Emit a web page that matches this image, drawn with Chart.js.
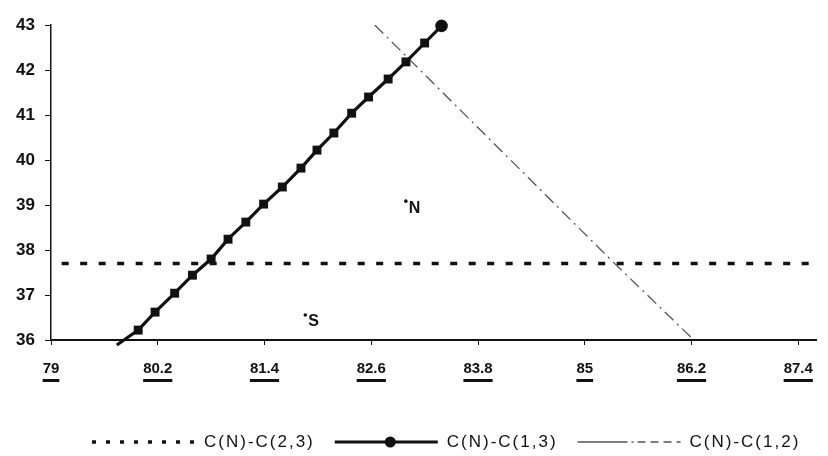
<!DOCTYPE html>
<html><head><meta charset="utf-8">
<script src="https://cdn.jsdelivr.net/npm/chart.js@4/dist/chart.umd.min.js"></script>
<style>html,body{margin:0;padding:0;background:#fff}#wrap{width:828px;height:456px}</style>
</head><body><div id="wrap"><canvas id="c" width="828" height="456"></canvas></div>
<script>
// ---- data ----
const xTickLabels = ['79','80.2','81.4','82.6','83.8','85','86.2','87.4'];
const yTickLabels = ['36','37','38','39','40','41','42','43'];
const seriesNames = ['C(N)-C(2,3)','C(N)-C(1,3)','C(N)-C(1,2)'];
const c23X = [79.12, 87.55];
const c23Y = [37.7, 37.7];
const c13X = [79.74, 79.98, 80.17, 80.39, 80.59, 80.8, 80.99, 81.19, 81.39, 81.6, 81.81, 81.99, 82.18, 82.38, 82.57, 82.79, 82.99, 83.2, 83.39];
const c13Y = [35.89, 36.22, 36.62, 37.04, 37.44, 37.8, 38.24, 38.62, 39.02, 39.4, 39.82, 40.22, 40.6, 41.04, 41.4, 41.8, 42.18, 42.6, 42.98];
const c12X = [82.64, 85.32, 86.2];
const c12Y = [43.0, 37.73, 36.05];
const noteLabels = ['N','S'];
const noteX = [83.09, 81.96];
const noteY = [38.93, 36.4];

const toPts = (xs, ys) => xs.map((x, i) => ({x: x, y: ys[i]}));
const xTickVals = xTickLabels.map(Number);
const yTickVals = yTickLabels.map(Number);

const c13Radius = c13X.map((_, i) => i === 0 ? 0 : 6.3);
const c13Style = c13X.map((_, i) => i === c13X.length - 1 ? 'circle' : 'rect');

const extras = {
  id: 'extras',
  beforeDraw(chart) {
    const ctx = chart.ctx;
    ctx.save();
    ctx.fillStyle = '#fff';
    ctx.fillRect(0, 0, chart.width, chart.height);
    ctx.restore();
  },
  afterDraw(chart) {
    const ctx = chart.ctx;
    const xs = chart.scales.x, ys = chart.scales.y;
    const area = chart.chartArea;
    ctx.save();
    // underline x tick labels
    ctx.font = 'bold 15px "Liberation Sans Narrow", "Liberation Sans", Arial, sans-serif';
    ctx.fillStyle = '#111';
    xs.ticks.forEach((t, i) => {
      const px = xs.getPixelForValue(t.value);
      const w = ctx.measureText(xTickLabels[i]).width;
      ctx.fillRect(px - w / 2, area.bottom + 39, w, 3);
    });
    // annotations
    ctx.font = 'bold 16px "Liberation Sans", Arial, sans-serif';
    ctx.textBaseline = 'middle';
    ctx.textAlign = 'left';
    noteLabels.forEach((s, i) => {
      const px = xs.getPixelForValue(noteX[i]);
      const py = ys.getPixelForValue(noteY[i]);
      ctx.beginPath();
      ctx.arc(px - 9, py - 7, 1.8, 0, Math.PI * 2);
      ctx.fill();
      ctx.fillText(s, px - 6, py);
    });
    // legend
    ctx.font = '17px "Liberation Sans", Arial, sans-serif';
    try { ctx.letterSpacing = '2px'; } catch (e) {}
    let x = 92;
    const ly = 442;
    const sampleLen = 103, gapText = 9, gapItem = 20;
    chart.data.datasets.forEach(ds => {
      ctx.save();
      ctx.strokeStyle = ds.borderColor;
      ctx.lineWidth = ds.borderWidth;
      ctx.setLineDash(ds.legendDash || ds.borderDash || []);
      ctx.beginPath();
      ctx.moveTo(x, ly);
      ctx.lineTo(x + sampleLen, ly);
      ctx.stroke();
      if (ds.legendMarker) {
        ctx.fillStyle = ds.borderColor;
        ctx.beginPath();
        ctx.arc(x + sampleLen / 2 + 4, ly, 5.5, 0, Math.PI * 2);
        ctx.fill();
      }
      ctx.restore();
      x += sampleLen + gapText;
      ctx.fillStyle = '#111';
      ctx.textBaseline = 'middle';
      ctx.fillText(ds.label, x, ly);
      x += ctx.measureText(ds.label).width + gapItem;
    });
    ctx.restore();
  }
};

new Chart(document.getElementById('c'), {
  type: 'line',
  data: {
    datasets: [
      {
        label: seriesNames[0],
        data: toPts(c23X, c23Y),
        borderColor: '#111',
        borderWidth: 3.5,
        borderDash: [7, 11.5],
        legendDash: [4, 10],
        pointRadius: 0,
        fill: false
      },
      {
        label: seriesNames[1],
        data: toPts(c13X, c13Y),
        borderColor: '#111',
        backgroundColor: '#111',
        borderWidth: 3.2,
        pointRadius: c13Radius,
        pointStyle: c13Style,
        pointBorderWidth: 0,
        clip: false,
        legendMarker: true,
        fill: false
      },
      {
        label: seriesNames[2],
        data: toPts(c12X, c12Y),
        borderColor: '#555',
        borderWidth: 1.3,
        borderDash: [12, 5, 2, 5],
        legendDash: [50, 4, 2, 4, 8, 5, 8, 5, 8, 5],
        pointRadius: 0,
        fill: false
      }
    ]
  },
  options: {
    responsive: false,
    animation: false,
    devicePixelRatio: 1,
    layout: { padding: { top: 25, right: 0, left: 0, bottom: 0 } },
    plugins: { legend: { display: false }, tooltip: { enabled: false } },
    scales: {
      x: {
        type: 'linear',
        min: 79,
        max: 87.6,
        afterBuildTicks: s => { s.ticks = xTickVals.map(v => ({value: v})); },
        afterFit: s => { s.height = 116; },
        ticks: {
          callback: (v) => { const i = xTickVals.indexOf(v); return i >= 0 ? xTickLabels[i] : ''; },
          font: { family: '"Liberation Sans Narrow", "Liberation Sans", Arial, sans-serif', size: 15, weight: 'bold' },
          color: '#111',
          padding: 15,
          maxRotation: 0,
          autoSkip: false
        },
        grid: { display: true, drawOnChartArea: false, drawTicks: true, tickLength: 5, color: '#111' },
        border: { display: true, color: '#111', width: 2 }
      },
      y: {
        type: 'linear',
        min: 36,
        max: 43,
        afterBuildTicks: s => { s.ticks = yTickVals.map(v => ({value: v})); },
        afterFit: s => { s.width = 51; },
        ticks: {
          callback: (v) => { const i = yTickVals.indexOf(v); return i >= 0 ? yTickLabels[i] : ''; },
          font: { family: '"Liberation Sans", Arial, sans-serif', size: 17, weight: 'bold' },
          color: '#111',
          padding: 10
        },
        grid: { display: true, drawOnChartArea: false, drawTicks: true, tickLength: 6, color: '#111' },
        border: { display: true, color: '#111', width: 1.5 }
      }
    }
  },
  plugins: [extras]
});
</script>
</body></html>
